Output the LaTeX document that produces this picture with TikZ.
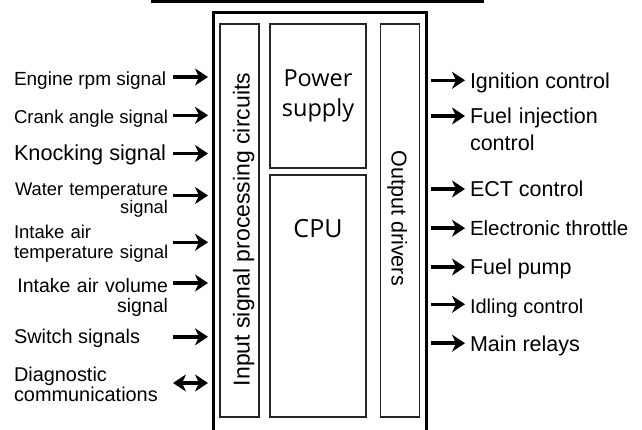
\documentclass[tikz,border=0pt]{standalone}
\usepackage{fontspec}
\setmainfont{Liberation Sans}
\newfontfamily\boxfont{Open Sans}
\usetikzlibrary{arrows.meta}
\tikzset{
  frame/.style={draw, line width=3pt, inner sep=0pt, outer sep=0pt, anchor=north west},
  part/.style={draw=black!85, line width=1.1pt, inner sep=0pt, outer sep=0pt, anchor=north west},
  inlabel/.style={font=\fontsize{19.5}{19}\selectfont, inner sep=3pt, outer sep=0pt, anchor=base west},
  outlabel/.style={font=\fontsize{21.5}{27}\selectfont, inner sep=3pt, outer sep=0pt, anchor=base west},
  boxlabel/.style={font=\boxfont\fontsize{23.5}{30}\selectfont, align=center},
  sidelabel/.style={font=\fontsize{23}{23}\selectfont, anchor=base},
  sig/.style={line width=3.5pt, -{Stealth[length=13pt, width=17pt, inset=4pt]}},
  bisig/.style={line width=3.5pt, {Stealth[length=13pt, width=17pt, inset=4pt]}-{Stealth[length=13pt, width=17pt, inset=4pt]}},
}

\begin{document}
\begin{tikzpicture}[x=1pt, y=-1pt]
  \useasboundingbox (0,0) rectangle (642,430);
  \clip (0,0) rectangle (642,430);

  % housing
  \draw[line width=3pt] (151,1.3) -- (484,1.3);
  \node[frame, minimum width=213.2pt, minimum height=440pt] (ecu) at (213.5,12.5) {};
  \coordinate (in-start) at (173,0);

  % blocks inside the ECU
  \node[part, minimum width=39pt, minimum height=393pt] (inproc) at (220,24) {};
  \node[part, boxlabel, minimum width=96pt, minimum height=144pt] (power) at (270,24) {Power\\supply};
  \node[part, minimum width=96pt, minimum height=242pt] (cpu) at (270,175) {};
  \node[part, minimum width=38.6pt, minimum height=393pt] (outdrv) at (380.7,24) {};

  \node[boxlabel, font=\boxfont\fontsize{25}{30}\selectfont] (cpu-text) at ([yshift=-54pt]cpu.north) {CPU};
  \node[sidelabel, rotate=90] (inproc-text) at ([xshift=10.2pt, yshift=-9pt]inproc.center) {Input signal processing circuits};
  \node[sidelabel, rotate=-90, font=\fontsize{21.5}{21.5}\selectfont] (outdrv-text) at ([xshift=-8.5pt, yshift=2.2pt]outdrv.center) {Output drivers};

  % input signals
  \node[inlabel, font=\fontsize{19}{19}\selectfont] (rpm) at (11,86) {Engine rpm signal};
  \node[inlabel, font=\fontsize{18.6}{19}\selectfont] (crank) at (11,123.3) {Crank angle signal};
  \node[inlabel, font=\fontsize{21.7}{19}\selectfont] (knock) at (11,161) {Knocking signal};
  \node[inlabel, text width=154pt, align=right, font=\fontsize{18.3}{18}\selectfont] (water) at (11,195.5) {Water temperature\\signal};
  \node[inlabel, text width=160pt, align=left, font=\fontsize{18.5}{20}\selectfont] (airtemp) at (11,238.3) {Intake air\\temperature signal};
  \node[inlabel, text width=154pt, align=right, font=\fontsize{19.5}{20}\selectfont] (airvol) at (11,292) {Intake air volume\\signal};
  \node[inlabel, font=\fontsize{19.9}{19}\selectfont] (switch) at (11,343.3) {Switch signals};
  \node[inlabel, text width=160pt, align=left, font=\fontsize{19.9}{18.5}\selectfont] (diag) at (11,381.7) {Diagnostic\\communications};

  \draw[sig, shorten >=5.5pt] ([yshift=9pt]rpm.base east -| in-start) -- ([yshift=9pt]rpm.base east -| ecu.west);
  \draw[sig, shorten >=5.5pt] ([yshift=8pt]crank.base east -| in-start) -- ([yshift=8pt]crank.base east -| ecu.west);
  \draw[sig, shorten >=5.5pt] ([yshift=7.5pt]knock.base east -| in-start) -- ([yshift=7.5pt]knock.base east -| ecu.west);
  \draw[sig, shorten >=5.5pt] (water.base east -| in-start) -- (water.base east -| ecu.west);
  \draw[sig, shorten >=5.5pt] ([yshift=-4pt]airtemp.base east -| in-start) -- ([yshift=-4pt]airtemp.base east -| ecu.west);
  \draw[sig, shorten >=5.5pt] ([yshift=9pt]airvol.base east -| in-start) -- ([yshift=9pt]airvol.base east -| ecu.west);
  \draw[sig, shorten >=5.5pt] ([yshift=6.5pt]switch.base east -| in-start) -- ([yshift=6.5pt]switch.base east -| ecu.west);
  \draw[bisig, shorten >=5.5pt] ([yshift=-1.3pt]diag.base east -| in-start) -- ([yshift=-1.3pt]diag.base east -| ecu.west);

  % output signals
  \node[outlabel] (ign) at (467,88.3) {Ignition control};
  \node[outlabel, text width=170pt, align=left] (inject) at (467,124) {Fuel injection\\control};
  \node[outlabel] (ect) at (467,197) {ECT control};
  \node[outlabel, font=\fontsize{20.5}{27}\selectfont] (throttle) at (467,235.7) {Electronic throttle};
  \node[outlabel] (pump) at (467,274) {Fuel pump};
  \node[outlabel, font=\fontsize{20}{27}\selectfont] (idle) at (467,313.3) {Idling control};
  \node[outlabel] (relay) at (467,351.7) {Main relays};

  \draw[sig, shorten <=4.3pt, shorten >=2pt] ([yshift=8pt]ign.base west -| ecu.east) -- ([yshift=8pt]ign.base west);
  \draw[sig, shorten <=4.3pt, shorten >=2pt] ([yshift=8pt]inject.base west -| ecu.east) -- ([yshift=8pt]inject.base west);
  \draw[sig, shorten <=4.3pt, shorten >=2pt] ([yshift=8pt]ect.base west -| ecu.east) -- ([yshift=8pt]ect.base west);
  \draw[sig, shorten <=4.3pt, shorten >=2pt] ([yshift=7.5pt]throttle.base west -| ecu.east) -- ([yshift=7.5pt]throttle.base west);
  \draw[sig, shorten <=4.3pt, shorten >=2pt] ([yshift=7pt]pump.base west -| ecu.east) -- ([yshift=7pt]pump.base west);
  \draw[sig, shorten <=4.3pt, shorten >=2pt] ([yshift=9pt]idle.base west -| ecu.east) -- ([yshift=9pt]idle.base west);
  \draw[sig, shorten <=4.3pt, shorten >=2pt] ([yshift=8.5pt]relay.base west -| ecu.east) -- ([yshift=8.5pt]relay.base west);
\end{tikzpicture}
\end{document}
